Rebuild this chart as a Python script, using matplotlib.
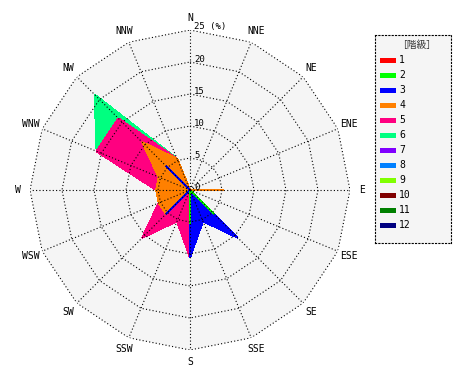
import numpy as np
import matplotlib
matplotlib.use('Agg')
import matplotlib.pyplot as plt
from matplotlib.patches import Rectangle

plt.rcParams['font.family'] = ['DejaVu Sans Mono', 'Noto Sans CJK JP']

# ---- data ----
directions = ['N', 'NNE', 'NE', 'ENE', 'E', 'ESE', 'SE', 'SSE',
              'S', 'SSW', 'SW', 'WSW', 'W', 'WNW', 'NW', 'NNW']
classes = ['1', '2', '3', '4', '5', '6', '7', '8', '9', '10', '11', '12']
class_colors = ['#ff0000', '#00ff00', '#0000ff', '#ff8000', '#ff0080', '#00ff80',
                '#8000ff', '#0080ff', '#80ff00', '#800000', '#008000', '#000080']

#            N  NNE NE ENE  E    ESE  SE    SSE   S     SSW   SW    WSW   W     WNW    NW    NNW
class_1  = [0, 0, 0, 0, 0,    0, 0,    0,    0,    0,    0,    0,    0,    0,     0,    0]
class_2  = [0, 0, 0, 0, 0,    0, 5.26, 0,    5.26, 0,    0,    0,    0,    0,     0,    0]
class_3  = [0, 0, 0, 0, 0,    0, 5.26, 5.26, 5.26, 0,    5.26, 0,    0,    0,     5.26, 0]
class_4  = [0, 0, 0, 0, 5.26, 0, 0,    0,    0,    0,    0,    5.26, 5.26, 5.26,  5.26, 5.26]
class_5  = [0, 0, 0, 0, 0,    0, 0,    0,    0,    5.26, 5.26, 0,    0,    10.53, 5.26, 0]
class_6  = [0, 0, 0, 0, 0,    0, 0,    0,    0,    0,    0,    0,    0,    0,     5.26, 0]
class_7  = [0, 0, 0, 0, 0,    0, 0,    0,    0,    0,    0,    0,    0,    0,     0,    0]
class_8  = [0, 0, 0, 0, 0,    0, 0,    0,    0,    0,    0,    0,    0,    0,     0,    0]
class_9  = [0, 0, 0, 0, 0,    0, 0,    0,    0,    0,    0,    0,    0,    0,     0,    0]
class_10 = [0, 0, 0, 0, 0,    0, 0,    0,    0,    0,    0,    0,    0,    0,     0,    0]
class_11 = [0, 0, 0, 0, 0,    0, 0,    0,    0,    0,    0,    0,    0,    0,     0,    0]
class_12 = [0, 0, 0, 0, 0,    0, 0,    0,    0,    0,    0,    0,    0,    0,     0,    0]

ring_values = [5, 10, 15, 20, 25]
radial_labels = ['0', '5', '10', '15', '20', '25 (%)']
legend_title = '［階級］'

# ---- figure ----
W, H = 470, 380
fig = plt.figure(figsize=(W / 100, H / 100), dpi=100)
fig.patch.set_facecolor('white')

cx, cy, R = 190, 190, 160
ax = fig.add_axes([(cx - R) / W, (H - cy - R) / H, 2 * R / W, 2 * R / H],
                  projection='polar')
ax.set_theta_zero_location('N')
ax.set_theta_direction(-1)
rmax = ring_values[-1]
ax.set_ylim(0, rmax)
ax.set_axis_off()

theta = np.linspace(0, 2 * np.pi, len(directions), endpoint=False)
th_c = np.append(theta, theta[0])

def closed(v):
    v = np.asarray(v, dtype=float)
    return np.append(v, v[0])

# background polygon
ax.fill(th_c, closed([rmax] * len(directions)), facecolor='#f5f5f5',
        edgecolor='none', zorder=0)

# stacked (cumulative) polygons, outermost first
series = np.array([class_1, class_2, class_3, class_4, class_5, class_6,
                   class_7, class_8, class_9, class_10, class_11, class_12])
cum = np.cumsum(series, axis=0)
for k in range(len(classes) - 1, -1, -1):
    if cum[k].max() <= 0:
        continue
    ax.fill(th_c, closed(cum[k]), facecolor=class_colors[k],
            edgecolor=class_colors[k], linewidth=0.8, antialiased=False,
            zorder=1)

# grid: polygon rings and radial lines
dot = (0, (1, 2))
for v in ring_values:
    ax.plot(th_c, closed([v] * len(directions)), color='black', lw=0.8,
            ls=dot, zorder=3)
for t in theta:
    ax.plot([t, t], [0, rmax], color='black', lw=0.8, ls=dot, zorder=3)

# direction labels
for t, d in zip(theta, directions):
    ax.text(t, rmax * 1.076, d, ha='center', va='center', fontsize=7,
            clip_on=False, zorder=5)

# radial labels along N axis
for v, lbl in zip([0] + ring_values, radial_labels):
    ax.annotate(lbl, xy=(0, v), xytext=(4, 3), textcoords='offset pixels',
                ha='left', va='center', fontsize=6.5, zorder=5,
                annotation_clip=False)

# ---- legend ----
lx0, ly0, lx1, ly1 = 375, 35, 451, 243
lax = fig.add_axes([lx0 / W, (H - ly1) / H, (lx1 - lx0) / W, (ly1 - ly0) / H])
lax.set_xlim(0, lx1 - lx0)
lax.set_ylim(ly1 - ly0, 0)
lax.set_facecolor('#f5f5f5')
lax.set_xticks([])
lax.set_yticks([])
for s in lax.spines.values():
    s.set_linestyle(dot)
    s.set_linewidth(0.8)
    s.set_color('black')

lax.text(41.5, 9.5, legend_title, ha='center', va='center', fontsize=7,
         color='#333333', family=['Noto Sans CJK JP', 'DejaVu Sans'])
for i, (name, col) in enumerate(zip(classes, class_colors)):
    y = 25 + 15 * i
    lax.add_patch(Rectangle((5, y - 2.5), 16, 5, facecolor=col, edgecolor='none'))
    lax.text(24, y, name, ha='left', va='center', fontsize=7)

fig.savefig('out.png', dpi=100)
